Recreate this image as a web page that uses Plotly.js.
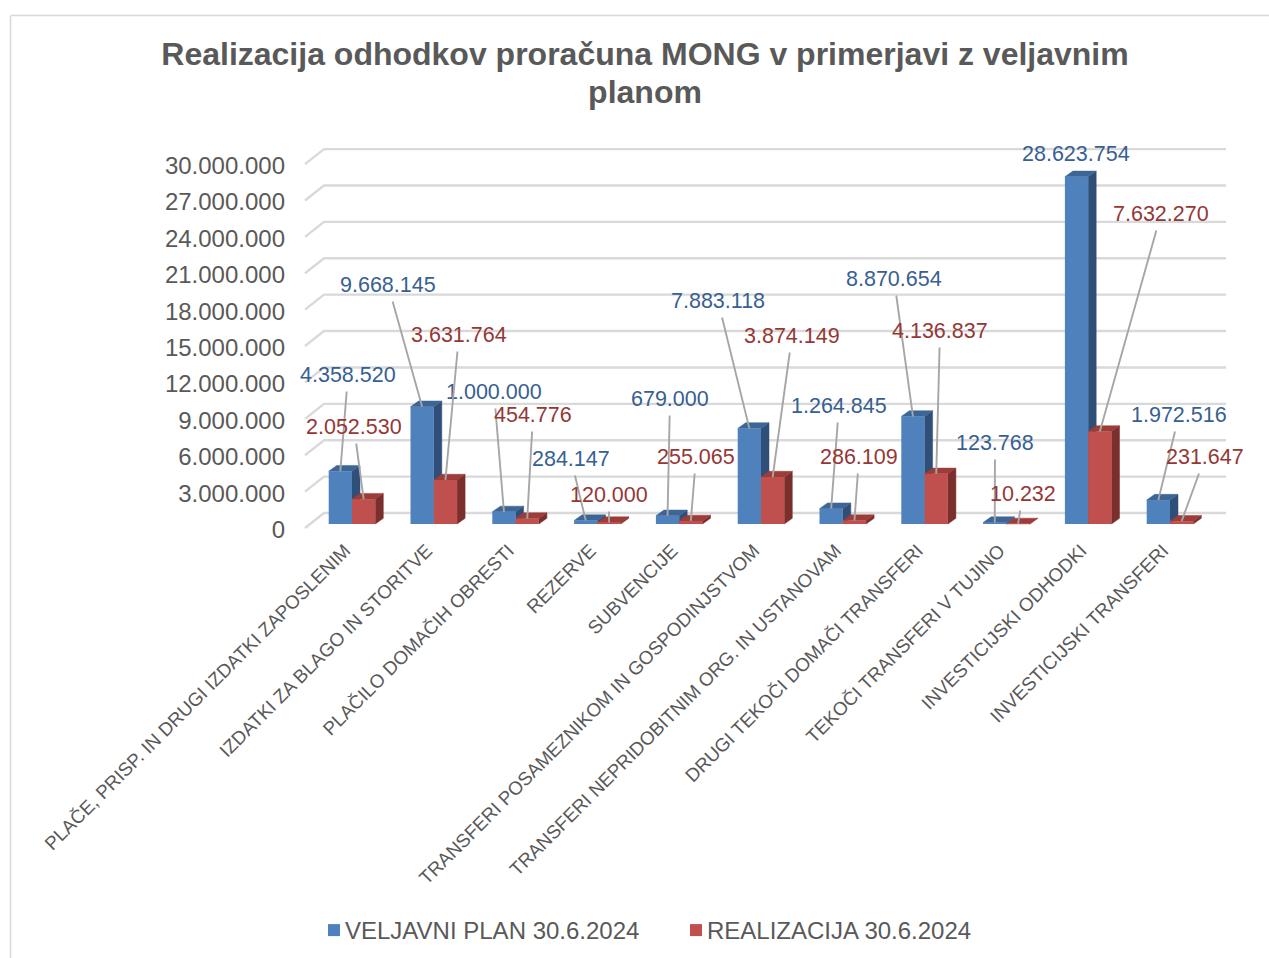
<!DOCTYPE html>
<html>
<head>
<meta charset="utf-8">
<script src="https://cdn.plot.ly/plotly-3.0.1.min.js"></script>
<style>html,body{margin:0;padding:0;background:#fff;overflow:hidden}</style>
</head>
<body>
<div id="chart" style="width:1269px;height:958px"></div>
<script>
// ---- data ----
const categories = [
  "PLAČE, PRISP. IN DRUGI IZDATKI ZAPOSLENIM",
  "IZDATKI ZA BLAGO IN STORITVE",
  "PLAČILO DOMAČIH OBRESTI",
  "REZERVE",
  "SUBVENCIJE",
  "TRANSFERI POSAMEZNIKOM IN GOSPODINJSTVOM",
  "TRANSFERI NEPRIDOBITNIM ORG. IN USTANOVAM",
  "DRUGI TEKOČI DOMAČI TRANSFERI",
  "TEKOČI TRANSFERI V TUJINO",
  "INVESTICIJSKI ODHODKI",
  "INVESTICIJSKI TRANSFERI"
];
const planValues = [4358520, 9668145, 1000000, 284147, 679000, 7883118, 1264845, 8870654, 123768, 28623754, 1972516];
const realValues = [2052530, 3631764, 454776, 120000, 255065, 3874149, 286109, 4136837, 10232, 7632270, 231647];
const planName = "VELJAVNI PLAN 30.6.2024";
const realName = "REALIZACIJA 30.6.2024";
const axisTicks = [0, 3000000, 6000000, 9000000, 12000000, 15000000, 18000000, 21000000, 24000000, 27000000, 30000000];

// ---- layout geometry (pixels of the page) ----
const plot = {l: 290, r: 1250, t: 130, b: 535};
const step = 81.8, firstCenter = 352, barW = 23.3;
const unitPx = 12.13 / 1e6, zeroPx = 529.5, barZeroPx = 524;
const sideDx = 8, topDy = 5.7;
const xOf = px => (px - firstCenter) / step;
const yOf = px => (zeroPx - px) / unitPx;
const xDelta = px => px / step, yDelta = px => px / unitPx;
const base = yDelta(zeroPx - barZeroPx);
const barUnits = barW / step;

// label centres, pixels
const planLabelPos = [[348,375],[388,285],[494,392],[571,459],[670,399],[718,301],[839,406],[894,279],[995,443],[1076,154],[1179,415]];
const realLabelPos = [[354,427],[459,335],[533,415],[609,495],[696,457],[792,336],[859,457],[940,331],[1023,494],[1161,214],[1205,457]];

const fmt = v => String(v).replace(/\B(?=(\d{3})+$)/g, ".");

// back wall gridlines
const gx = [], gy = [];
axisTicks.forEach(v => {
  gx.push(xOf(305), xOf(324), xOf(1226), null);
  gy.push(v + yDelta(1.5), v + yDelta(16.5), v + yDelta(16.5), null);
});
const gridTrace = {type:"scatter", mode:"lines", x:gx, y:gy, line:{color:"#d9d9d9", width:2.4},
  showlegend:false, hoverinfo:"skip"};

// 3D faces of each series
function faces(values, xl, topColor, sideColor) {
  const tx=[], ty=[], sx=[], sy=[];
  const dx=xDelta(sideDx), dy=yDelta(topDy);
  values.forEach((v,i) => {
    const a=i+xl, b=a+barUnits, t=base+v;
    tx.push(a, a+dx, b+dx, b, a, null);
    ty.push(t, t+dy, t+dy, t, t, null);
    sx.push(b, b+dx, b+dx, b, b, null);
    sy.push(base, base+dy, t+dy, t, base, null);
  });
  const mk=(x,y,c)=>({type:"scatter", mode:"lines", x, y, fill:"toself", fillcolor:c,
    line:{color:c, width:0.5}, showlegend:false, hoverinfo:"skip"});
  return [mk(sx,sy,sideColor), mk(tx,ty,topColor)];
}

const xIdx = categories.map((_,i)=>i);
const barOpts = {type:"bar", x:xIdx, width:barUnits, yaxis:"y2", hoverinfo:"x+y"};
const traces = [
  gridTrace,
  ...faces(planValues, -barUnits, "#3d6696", "#2f4f78"),
  ...faces(realValues, 0, "#9c3d3a", "#7a2f2d"),
  Object.assign({}, barOpts, {name:planName, y:planValues, base:base, offset:-barUnits, marker:{color:"#4f81bd"}}),
  Object.assign({}, barOpts, {name:realName, y:realValues, base:base, offset:0, marker:{color:"#c0504d"}})
];

// data labels with leader lines
function labels(values, pos, xCentre, color, noLine) {
  return values.map((v,i) => {
    const font = {family:"Liberation Sans, Arial, sans-serif", size:21.5, color:color};
    if (noLine.includes(i)) {
      return {x:xOf(pos[i][0]), y:yOf(pos[i][1]), xref:"x", yref:"y", text:fmt(v), showarrow:false, font:font};
    }
    return {x:i+xCentre, y:base+v, xref:"x", yref:"y",
      ax:xOf(pos[i][0]), ay:yOf(pos[i][1]), axref:"x", ayref:"y",
      text:fmt(v), showarrow:true, arrowhead:0, arrowwidth:1.9, arrowcolor:"#a6a6a6",
      standoff:0, borderpad:4, font:font};
  });
}

const paperX = px => (px - plot.l) / (plot.r - plot.l);
const paperY = px => (plot.b - px) / (plot.b - plot.t);
const borderLine = {type:"line", xref:"paper", yref:"paper", layer:"below", line:{color:"#d9d9d9", width:1.5}};

const layout = {
  width:1269, height:958, autosize:false,
  margin:{l:plot.l, r:1269-plot.r, t:plot.t, b:958-plot.b, pad:0},
  paper_bgcolor:"#fff", plot_bgcolor:"rgba(0,0,0,0)",
  separators:",.",
  font:{family:"Liberation Sans, Arial, sans-serif", color:"#595959"},
  barmode:"overlay",
  title:{text:"Realizacija odhodkov proračuna MONG v primerjavi z veljavnim<br>planom",
    xref:"paper", x:paperX(645), xanchor:"center",
    yref:"container", y:1-65/958, yanchor:"top", automargin:false,
    font:{family:"Liberation Sans, Arial, sans-serif", size:32, color:"#595959", weight:"bold"}},
  xaxis:{range:[xOf(plot.l), xOf(plot.r)], tickmode:"array", tickvals:xIdx, ticktext:categories,
    tickangle:-45, showgrid:false, zeroline:false, showline:false, ticks:"",
    ticklabelshift:-7,
    tickfont:{size:18.8, color:"#595959"}, automargin:false},
  yaxis:{range:[yOf(plot.b), yOf(plot.t)], tickmode:"array", tickvals:axisTicks, tickformat:",d",
    showgrid:false, zeroline:false, showline:false, ticks:"", ticklabelstandoff:4,
    tickfont:{size:24, color:"#595959"}, automargin:false},
  yaxis2:{range:[yOf(plot.b), yOf(plot.t)], overlaying:"y", visible:false},
  showlegend:true,
  legend:{orientation:"h", xref:"container", yref:"container", x:305/1269, y:1-908/958, xanchor:"left", yanchor:"top",
    font:{size:24, color:"#595959"}, traceorder:"normal", itemwidth:30, entrywidth:317, entrywidthmode:"pixels",
    itemclick:false, itemdoubleclick:false},
  shapes:[
    Object.assign({}, borderLine, {x0:paperX(10.5), x1:paperX(10.5), y0:paperY(15.5), y1:paperY(958)}),
    Object.assign({}, borderLine, {x0:paperX(10.5), x1:paperX(1269), y0:paperY(15.5), y1:paperY(15.5)})
  ],
  annotations:[
    ...labels(planValues, planLabelPos, -barUnits/2, "#376092", [9]),
    ...labels(realValues, realLabelPos, barUnits/2, "#953735", [])
  ]
};

Plotly.newPlot("chart", traces, layout, {displayModeBar:false}).then(() => {
  // legend swatch sits right next to its text, and the title lines are set tighter, as in the reference
  document.querySelectorAll("#chart .legendsymbols").forEach(g => g.setAttribute("transform", "translate(9,0)"));
  const titleLines = document.querySelectorAll("#chart .gtitle tspan.line");
  if (titleLines.length > 1) titleLines[1].setAttribute("dy", "38px");
});
</script>
</body>
</html>
